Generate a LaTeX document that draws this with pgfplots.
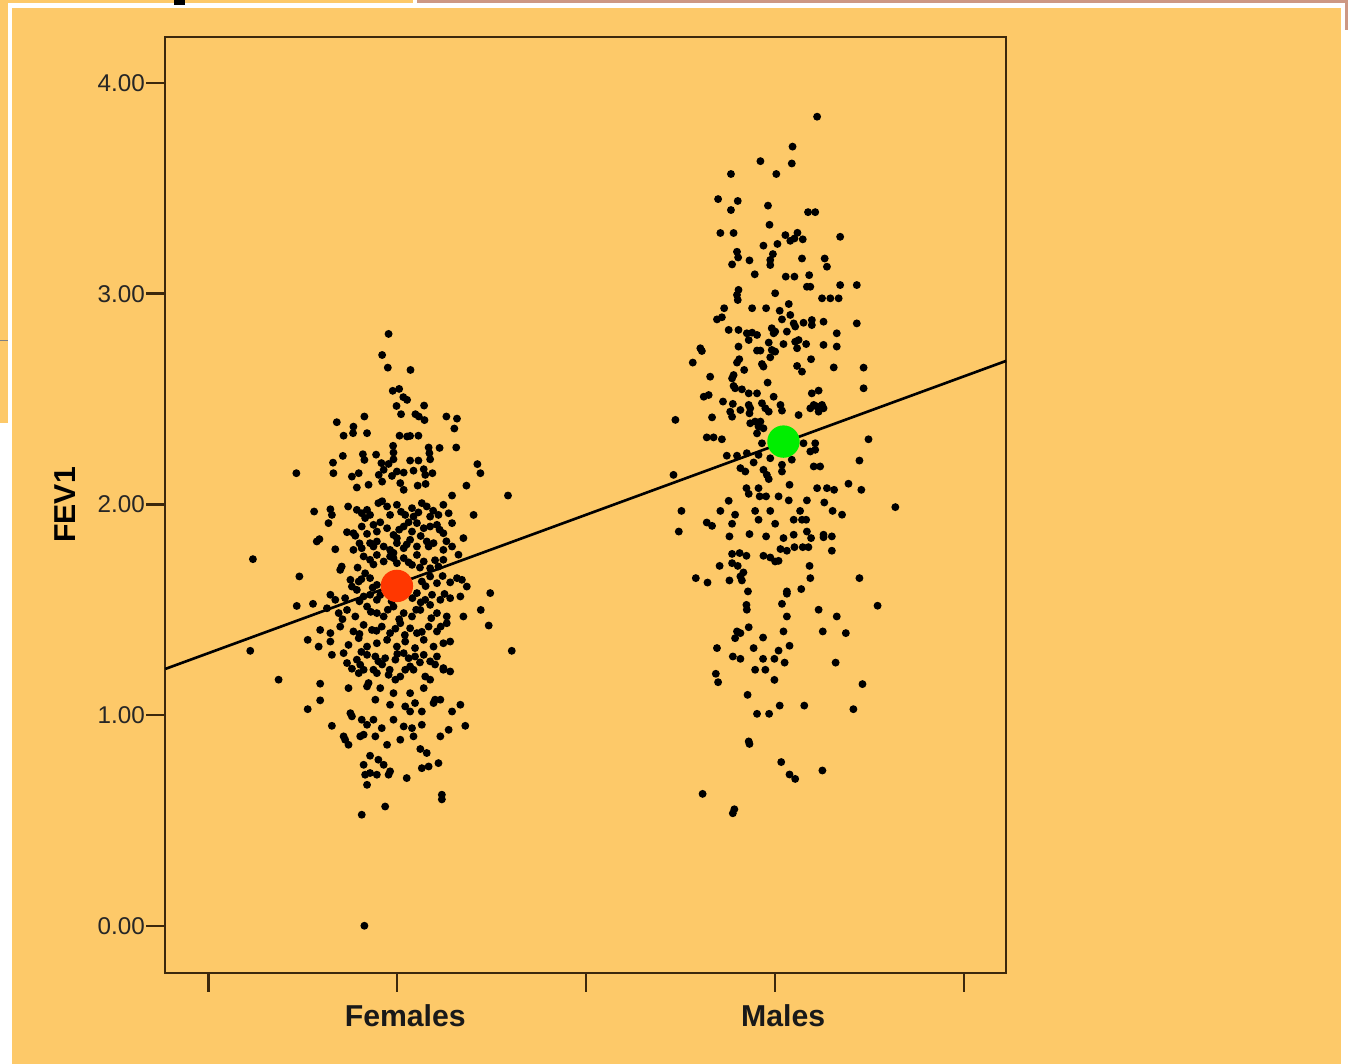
\documentclass[border=0pt]{standalone}
\usepackage{pgfplots}
\pgfplotsset{compat=1.18}
\usepackage{fontspec}
\setmainfont{Liberation Sans}
\definecolor{bgor}{RGB}{253,201,105}
\definecolor{frame}{RGB}{60,40,12}
\definecolor{pinkb}{RGB}{205,152,132}
\definecolor{meanred}{RGB}{255,55,0}
\definecolor{meangreen}{RGB}{0,238,0}
\begin{document}
\begin{tikzpicture}
\fill[white] (0mm,0mm) rectangle (134.8mm,106.4mm);
\fill[bgor] (1.2mm,0mm) rectangle (134.1mm,105.6mm);
\fill[bgor] (0mm,64.1mm) rectangle (0.8mm,106.4mm);
\draw[gray,line width=0.2pt] (0mm,72.4mm) -- (0.8mm,72.4mm);
\fill[bgor] (0mm,106.1mm) rectangle (41.3mm,106.4mm);
\fill[pinkb] (41.7mm,106.1mm) rectangle (134.8mm,106.4mm);
\fill[pinkb] (134.5mm,103.4mm) rectangle (134.8mm,106.4mm);
\fill[black] (17.4mm,105.9mm) rectangle (18.5mm,106.4mm);
\begin{axis}[
  at={(16.5mm,9.1mm)}, anchor=south west,
  width=84.1mm, height=93.6mm, scale only axis,
  xmin=0.3862, xmax=2.6111, ymin=-0.2230, ymax=4.2183,
  axis line style={frame, line width=0.6pt},
  xtick={0.5,1,1.5,2,2.5}, xticklabels={,Females,,Males,},
  ytick={0,1,2,3,4},
  tick align=outside, tick pos=left,
  major tick length=1.9mm,
  every tick/.style={frame, line width=0.7pt},
  /pgf/number format/fixed, /pgf/number format/fixed zerofill, /pgf/number format/precision=2,
  /pgf/number format/assume math mode=true,
  yticklabel style={font=\fontsize{6.9}{8}\selectfont, text=black!85, xshift=1.1mm},
  xticklabel style={font=\bfseries\fontsize{8.6}{10}\selectfont, text=black!90, xshift=0.8mm},
  ylabel={FEV1},
  ylabel style={font=\bfseries\fontsize{8.6}{10}\selectfont, at={(axis description cs:-0.1189,0.5)}, anchor=center},
  clip=false,
]
% Females
\addplot[only marks, mark=*, mark size=0.32mm, mark options={fill=black, draw=black}] coordinates {
(0.977,2.809)(0.960,2.709)(0.975,2.649)(1.035,2.638)(0.988,2.539)(1.005,2.548)(1.016,2.509)(1.026,2.496)(0.998,2.467)(1.071,2.469)
(1.010,2.428)(1.048,2.428)(1.057,2.417)(1.072,2.400)(1.130,2.417)(1.158,2.407)(0.913,2.417)(0.840,2.390)(0.884,2.369)(0.883,2.338)
(0.858,2.326)(0.920,2.338)(1.151,2.360)(1.006,2.326)(1.026,2.322)(1.034,2.325)(1.056,2.326)(0.989,2.278)(0.990,2.246)(1.083,2.270)
(1.085,2.243)(1.087,2.214)(1.112,2.268)(1.156,2.270)(0.856,2.230)(0.830,2.198)(0.831,2.148)(0.909,2.238)(0.913,2.211)(0.944,2.236)
(0.990,2.214)(1.034,2.208)(1.056,2.208)(0.958,2.196)(0.977,2.192)(0.964,2.164)(0.733,2.148)(0.880,2.132)(0.898,2.148)(0.951,2.140)
(0.986,2.135)(0.999,2.156)(1.017,2.151)(1.043,2.160)(1.070,2.167)(1.093,2.148)(1.074,2.140)(1.212,2.191)(1.220,2.148)(1.183,2.089)
(0.893,2.080)(0.924,2.093)(0.960,2.108)(1.008,2.101)(1.017,2.069)(1.054,2.089)(1.075,2.097)(1.293,2.042)(1.145,2.042)
(0.780,1.966)(0.823,1.977)(0.827,1.950)(0.893,1.974)(0.906,1.958)(0.920,1.974)(0.928,1.950)(0.950,2.006)(0.973,1.990)(0.981,1.950)
(0.999,1.998)(1.021,1.950)(1.039,1.982)(1.043,1.942)(1.065,2.006)(1.078,1.990)(1.087,1.942)(1.109,1.950)(1.122,1.998)(1.136,1.958)
(1.202,1.950)
(0.818,1.911)(0.867,1.868)(0.884,1.863)(0.889,1.851)(0.906,1.895)(0.937,1.903)(0.946,1.871)(0.973,1.887)(0.990,1.855)(0.999,1.840)
(1.017,1.895)(1.039,1.871)(1.052,1.911)(1.070,1.887)(1.087,1.895)(1.105,1.903)(1.122,1.863)(1.145,1.911)(1.175,1.840)
(0.787,1.824)(0.794,1.835)(0.836,1.787)(0.884,1.784)(0.906,1.792)(0.928,1.816)(0.946,1.824)(0.964,1.800)(0.981,1.784)(0.999,1.816)
(1.017,1.792)(1.034,1.832)(1.052,1.800)(1.078,1.824)(1.096,1.816)(1.122,1.784)(1.145,1.800)(1.162,1.761)
(0.849,1.689)(0.853,1.705)(0.911,1.753)(0.928,1.737)(0.946,1.760)(0.964,1.729)(0.981,1.753)(0.999,1.721)(1.017,1.745)(1.039,1.713)
(1.052,1.760)(1.070,1.729)(1.087,1.697)(1.109,1.705)(1.122,1.737)
(0.618,1.740)(0.741,1.658)(0.876,1.642)(0.898,1.634)(0.915,1.673)(0.928,1.650)(0.946,1.618)(1.065,1.634)(1.087,1.658)(1.105,1.626)
(1.158,1.650)(1.171,1.642)(1.184,1.610)
(0.823,1.571)(0.836,1.547)(0.862,1.555)(0.893,1.594)(0.911,1.563)(0.928,1.571)(0.946,1.547)(1.052,1.579)(1.074,1.547)(1.092,1.571)
(1.114,1.547)(1.140,1.555)(1.167,1.563)(1.246,1.579)
(0.734,1.518)(0.777,1.528)(0.814,1.507)(0.845,1.484)(0.867,1.499)(0.889,1.468)(0.920,1.515)(0.946,1.484)(0.964,1.468)(0.990,1.515)
(1.017,1.484)(1.039,1.468)(1.061,1.499)(1.087,1.523)(1.105,1.484)(1.131,1.468)(1.175,1.468)(1.221,1.499)
(0.796,1.404)(0.823,1.389)(0.849,1.420)(0.884,1.397)(0.911,1.428)(0.933,1.404)(0.959,1.420)(0.981,1.389)(1.008,1.436)(1.034,1.412)
(1.052,1.389)(1.083,1.420)(1.105,1.397)(1.131,1.436)(1.242,1.425)
(0.763,1.357)(0.792,1.325)(0.823,1.349)(0.871,1.333)(0.898,1.365)(0.920,1.325)(0.946,1.341)(0.973,1.357)(0.999,1.325)(1.021,1.349)
(1.047,1.318)(1.070,1.357)(1.096,1.325)(1.122,1.341)(1.140,1.349)
(0.960,2.015)(1.010,1.965)(1.056,1.962)(0.915,1.935)(1.095,1.970)(0.870,1.990)
(0.955,1.915)(1.005,1.880)(1.030,1.915)(1.062,1.850)(0.920,1.860)(1.112,1.880)
(0.937,1.800)(0.990,1.770)(1.025,1.810)(1.083,1.800)(0.900,1.815)(1.130,1.825)
(0.937,1.715)(0.990,1.745)(1.030,1.725)(1.060,1.700)(0.895,1.700)(1.100,1.735)
(0.905,1.645)(0.935,1.605)(1.075,1.612)(1.120,1.660)(0.880,1.610)(1.140,1.630)
(0.955,1.570)(0.985,1.540)(1.040,1.555)(1.062,1.535)(0.900,1.540)(1.125,1.575)
(0.930,1.490)(0.975,1.500)(1.005,1.455)(1.050,1.500)(1.090,1.460)(0.855,1.455)
(0.900,1.385)(0.945,1.400)(0.995,1.410)(1.020,1.380)(1.065,1.395)(1.115,1.420)
(0.611,1.305)(0.827,1.286)(0.858,1.294)(0.867,1.247)(0.893,1.263)(0.902,1.239)(0.920,1.286)(0.942,1.278)(0.950,1.255)(0.968,1.270)
(0.995,1.263)(1.017,1.294)(1.034,1.231)(1.047,1.278)(1.070,1.286)(1.087,1.255)(1.105,1.278)(1.122,1.223)(1.140,1.207)(1.303,1.305)
(0.686,1.168)(0.898,1.199)(0.911,1.215)(0.924,1.152)(0.937,1.215)(0.946,1.199)(0.977,1.191)(0.995,1.168)(1.008,1.183)(1.021,1.215)
(1.043,1.215)(1.074,1.183)(1.087,1.168)(1.122,1.215)
(0.796,1.149)(0.871,1.128)(0.920,1.136)(0.955,1.128)(0.990,1.104)(1.034,1.104)(1.070,1.128)(1.100,1.073)(1.114,1.073)
(0.796,1.070)(0.763,1.028)(0.876,1.009)(0.942,1.073)(0.981,1.049)(1.021,1.041)(1.034,1.017)(1.047,1.057)(1.065,1.017)(1.096,1.057)
(1.145,1.017)(1.167,1.049)
(0.827,0.949)(0.880,0.994)(0.906,0.978)(0.920,0.954)(0.937,0.978)(0.959,0.938)(0.990,0.978)(1.017,0.946)(1.039,0.938)(1.065,0.954)
(1.136,0.930)(1.180,0.949)
(0.858,0.899)(0.862,0.883)(0.871,0.859)(0.902,0.899)(0.911,0.907)(0.942,0.899)(0.973,0.859)(1.008,0.883)(1.043,0.899)(1.061,0.839)
(1.114,0.899)
(0.928,0.807)(0.950,0.788)(0.964,0.764)(0.911,0.764)(1.078,0.820)(1.083,0.756)(1.109,0.772)(1.065,0.748)
(0.915,0.717)(0.928,0.725)(0.946,0.717)(0.977,0.717)(0.981,0.733)(1.025,0.701)
(0.920,0.669)(1.118,0.622)(1.118,0.600)
(0.905,1.300)(0.960,1.240)(1.000,1.290)(1.060,1.250)(0.980,1.215)(1.030,1.270)(0.880,1.220)(1.100,1.240)
(0.906,0.527)(0.968,0.566)(0.913,0.000)
};
% Males
\addplot[only marks, mark=*, mark size=0.32mm, mark options={fill=black, draw=black}] coordinates {
(2.111,3.840)(2.046,3.698)(1.961,3.629)(2.044,3.618)(1.883,3.568)(2.003,3.568)(1.849,3.449)(1.901,3.440)(1.883,3.397)(1.981,3.418)
(2.087,3.387)(2.106,3.387)(1.985,3.327)(1.855,3.288)(1.890,3.288)(2.027,3.278)(2.059,3.289)(2.040,3.251)(2.051,3.262)(2.073,3.258)
(2.172,3.270)(1.969,3.228)(2.006,3.236)(1.899,3.199)(1.902,3.172)(1.886,3.139)(1.932,3.158)(1.994,3.188)(1.987,3.160)(1.987,3.136)
(2.071,3.167)(2.131,3.167)(2.137,3.128)(1.946,3.092)(2.028,3.081)(2.051,3.081)(2.090,3.088)
(1.903,3.018)(1.899,2.994)(1.901,2.970)(2.000,3.002)(2.084,3.033)(2.093,3.033)(2.124,2.978)(2.146,2.978)(2.168,2.978)(2.172,3.041)
(2.216,3.041)(1.865,2.931)(1.939,2.931)(1.976,2.931)(2.036,2.951)(2.012,2.919)(1.846,2.878)(1.859,2.888)(2.040,2.899)(2.018,2.878)
(2.049,2.859)(2.053,2.844)(2.075,2.862)(2.097,2.875)(2.097,2.851)(2.128,2.867)(2.216,2.859)(1.877,2.828)(1.903,2.828)(1.925,2.812)
(1.939,2.815)(1.952,2.804)(1.930,2.780)(1.991,2.836)(1.996,2.812)(2.000,2.820)(2.031,2.820)(2.163,2.812)(1.983,2.768)(2.022,2.761)
(2.053,2.772)(2.062,2.780)(2.082,2.761)(1.802,2.741)(1.806,2.728)(1.903,2.749)(1.952,2.730)(1.961,2.730)(1.991,2.733)(2.000,2.725)
(2.058,2.741)(2.128,2.757)(2.163,2.749)(1.987,2.698)(1.782,2.673)(1.905,2.689)(1.899,2.673)(1.965,2.666)(1.969,2.654)(2.095,2.689)
(2.058,2.657)(2.071,2.630)(2.155,2.650)(2.234,2.649)(1.918,2.638)(1.828,2.606)(1.890,2.614)(1.886,2.598)(1.980,2.578)(1.890,2.562)
(1.894,2.551)(1.912,2.546)(2.234,2.551)(1.930,2.527)(1.952,2.527)(1.811,2.511)(1.824,2.519)(1.996,2.511)(2.097,2.527)(2.115,2.540)
(1.862,2.488)(1.888,2.477)(1.908,2.448)(1.881,2.440)(1.886,2.416)(1.930,2.472)(1.934,2.456)(1.932,2.432)(1.965,2.480)(1.974,2.456)
(1.983,2.440)(2.014,2.472)(2.018,2.445)(2.093,2.456)(2.102,2.472)(2.111,2.464)(2.124,2.472)(2.128,2.456)(2.115,2.440)(2.062,2.424)
(1.736,2.401)(1.833,2.413)(1.934,2.385)(1.947,2.393)(1.961,2.393)(1.956,2.369)(1.969,2.361)(1.952,2.337)(1.819,2.318)(1.837,2.318)
(1.859,2.309)(1.965,2.290)(2.075,2.290)(2.106,2.290)(2.247,2.309)
(1.872,2.231)(1.899,2.231)(1.925,2.243)(1.956,2.235)(1.987,2.219)(2.018,2.188)(2.018,2.156)(2.044,2.212)(2.093,2.251)(2.106,2.259)
(2.223,2.208)(1.731,2.140)(1.908,2.172)(1.921,2.156)(1.943,2.199)(1.969,2.164)(1.978,2.140)(1.983,2.120)(2.102,2.180)(2.119,2.180)
(2.038,2.093)(2.111,2.077)(2.137,2.077)(2.156,2.069)(2.194,2.098)(2.228,2.069)(1.924,2.077)(1.930,2.050)(1.956,2.077)(1.959,2.038)
(1.976,2.038)(2.009,2.038)(2.036,2.019)(2.084,2.019)(2.130,2.009)(1.877,2.017)(1.752,1.969)(1.855,1.969)(1.894,1.951)(1.947,1.969)
(1.987,1.969)(1.956,1.927)(2.066,1.969)(2.152,1.969)(2.177,1.951)(2.318,1.987)(1.819,1.914)(1.833,1.898)(1.886,1.908)(2.000,1.908)
(2.049,1.927)(2.071,1.927)(2.082,1.927)(1.745,1.871)(1.879,1.848)(1.932,1.859)(1.976,1.848)(2.022,1.840)(2.049,1.856)(2.084,1.871)
(2.095,1.840)(2.128,1.856)(2.128,1.844)(2.150,1.848)(2.014,1.788)(2.031,1.780)(2.051,1.797)(2.073,1.797)(2.088,1.797)(2.150,1.780)
(1.886,1.765)(1.906,1.769)(1.924,1.756)(1.969,1.756)(1.987,1.748)(2.000,1.729)(2.009,1.732)(1.886,1.721)(1.901,1.708)(1.853,1.708)
(2.091,1.708)(1.916,1.677)(1.908,1.658)(1.912,1.639)(1.790,1.650)(1.821,1.629)(1.879,1.639)(2.093,1.650)(2.223,1.650)(1.928,1.587)
(2.031,1.587)(2.031,1.576)(2.069,1.598)(2.018,1.528)(1.924,1.523)(1.925,1.500)(2.115,1.500)(2.271,1.519)(2.031,1.468)(2.163,1.468)
(1.930,1.417)(1.899,1.397)(1.908,1.389)(1.894,1.365)(1.968,1.368)(2.022,1.397)(2.126,1.397)(2.187,1.389)(1.846,1.318)(1.943,1.318)
(2.009,1.306)(2.038,1.329)(1.888,1.278)(1.908,1.267)(1.968,1.267)(1.998,1.267)(2.025,1.249)(2.160,1.249)(1.947,1.215)(1.974,1.215)
(1.843,1.196)(1.849,1.156)(1.998,1.167)(2.231,1.147)(1.927,1.096)(2.012,1.045)(2.077,1.045)(1.952,1.006)(1.984,1.006)(2.207,1.028)
(1.930,0.875)(1.932,0.863)(2.016,0.777)(2.038,0.718)(2.053,0.697)(2.125,0.737)(1.808,0.626)(1.892,0.553)(1.888,0.534)
};
% regression line
\addplot[black, line width=0.75pt] coordinates {(0.3862,1.219) (2.6111,2.681)};
% group means
\addplot[only marks, mark=*, mark size=1.55mm, mark options={fill=meanred, draw=meanred}] coordinates {(0.999,1.613)};
\addplot[only marks, mark=*, mark size=1.55mm, mark options={fill=meangreen, draw=meangreen}] coordinates {(2.022,2.298)};
\end{axis}
\end{tikzpicture}
\end{document}
